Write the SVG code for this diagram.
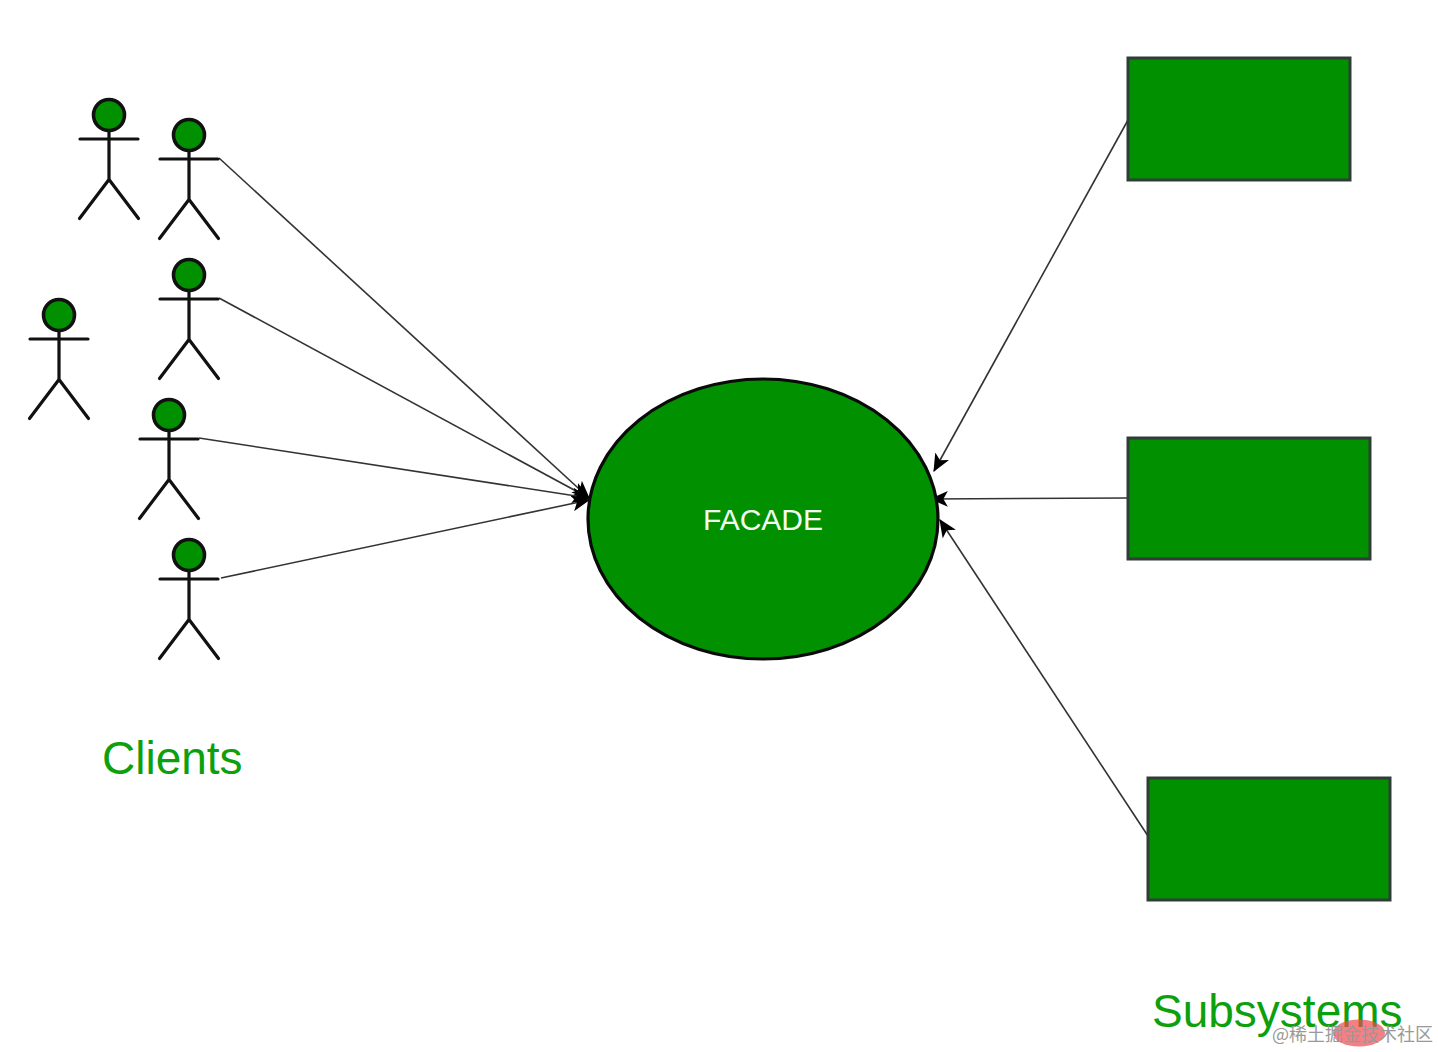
<svg xmlns="http://www.w3.org/2000/svg" width="1438" height="1052" viewBox="0 0 1438 1052">
<style>
.head{fill:#009000;stroke:#111;stroke-width:3.6}
.limb{fill:none;stroke:#111;stroke-width:3.2;stroke-linecap:round;stroke-linejoin:round}
.box{fill:#009000;stroke:#2f3d36;stroke-width:3}
.conn{fill:none;stroke:#333;stroke-width:1.6;marker-end:url(#arrow)}
.label{font-family:"Liberation Sans",Arial,sans-serif;fill:#0ca00c;font-size:46px}
.wm{font-family:"Noto Sans CJK SC","Liberation Sans",sans-serif;fill:#999;font-size:18px}
</style>
<defs>
<marker id="arrow" viewBox="0 0 16 14" refX="15" refY="7" markerWidth="18" markerHeight="16" markerUnits="userSpaceOnUse" orient="auto">
<path d="M0 0L16 7L0 14L4 7Z" fill="#000"/>
</marker>
<g id="actor">
<circle class="head" cx="0" cy="0" r="15.5"/>
<path class="limb" d="M0 15.500V64.500M-29 24H29M0 64.500L-29.500 103.500M0 64.500L29.500 103.500"/>
</g>
</defs>
<rect width="1438" height="1052" fill="#fff"/>
<g id="connectors">
<path class="conn" d="M219 158L589 498"/>
<path class="conn" d="M219 298L589 498"/>
<path class="conn" d="M199 438L589 498"/>
<path class="conn" d="M221 578L589 500"/>
<path class="conn" d="M1128 120L934 471"/>
<path class="conn" d="M1128 498L931 499"/>
<path class="conn" d="M1148 836L940 520"/>
</g>
<g id="client-1"><use href="#actor" x="109" y="115"/></g>
<g id="client-2"><use href="#actor" x="189" y="135"/></g>
<g id="client-3"><use href="#actor" x="189" y="275"/></g>
<g id="client-4"><use href="#actor" x="59" y="315"/></g>
<g id="client-5"><use href="#actor" x="169" y="415"/></g>
<g id="client-6"><use href="#actor" x="189" y="555"/></g>
<g id="facade">
<ellipse cx="763" cy="519" rx="175" ry="140" fill="#009000" stroke="#0a0a0a" stroke-width="3.2"/>
<text x="763" y="530" text-anchor="middle" font-family="Liberation Sans,Arial,sans-serif" font-size="30" fill="#f4fff4">FACADE</text>
</g>
<g id="subsystem-1"><rect class="box" x="1128" y="58" width="222" height="122"/></g>
<g id="subsystem-2"><rect class="box" x="1128" y="438" width="242" height="121"/></g>
<g id="subsystem-3"><rect class="box" x="1148" y="778" width="242" height="122"/></g>
<g id="clients-label"><text class="label" x="102" y="774">Clients</text></g>
<g id="subsystems-label"><text class="label" x="1152" y="1027">Subsystems</text></g>
<g id="watermark">
<ellipse cx="1359" cy="1033" rx="26" ry="13.500" fill="#ee4a50" fill-opacity=".7"/>
<text class="wm" x="1272" y="1041">@稀土掘金技术社区</text>
</g>
</svg>
